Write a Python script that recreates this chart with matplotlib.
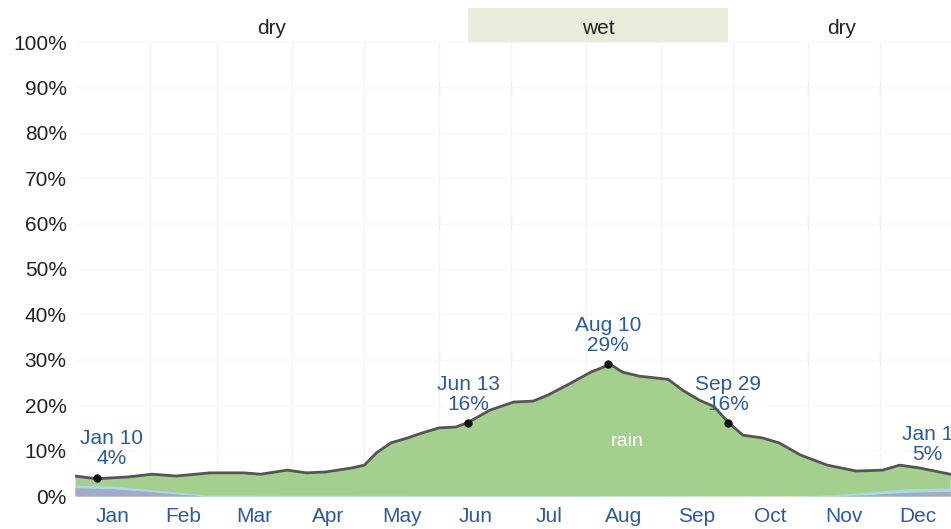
import matplotlib.pyplot as plt
import matplotlib.transforms as mtransforms
from matplotlib.patches import Rectangle
import numpy as np

plt.rcParams['font.family'] = ['Liberation Sans', 'DejaVu Sans']

# 日期(一年中的第几天)与降雨概率(%)
days = [0, 9, 22, 32, 42, 56, 70, 77, 88, 96, 104, 115, 120, 125, 131, 138, 144, 151,
        158, 163, 172, 182, 190, 196, 204, 214, 222, 227, 234, 246, 252, 259, 265, 271,
        277, 285, 292, 301, 312, 324, 335, 342, 350, 363]
rain = [4.4, 3.8, 4.2, 4.8, 4.4, 5.1, 5.1, 4.8, 5.7, 5.1, 5.3, 6.2, 6.8, 9.5, 11.7, 12.8,
        13.9, 15.0, 15.2, 16.2, 18.9, 20.7, 20.9, 22.2, 24.4, 27.3, 29.0, 27.3, 26.4, 25.7,
        23.3, 21.1, 19.7, 16.2, 13.4, 12.8, 11.7, 9.0, 6.8, 5.5, 5.7, 6.8, 6.2, 4.8]

# 底部的雪/雨夹雪层
snow_days = [0, 15, 30, 45, 55, 300, 315, 330, 345, 363]
snow = [1.8, 1.6, 1.0, 0.3, 0.0, 0.0, 0.0, 0.3, 0.8, 1.0]
mixed = [0.6, 0.6, 0.5, 0.4, 0.2, 0.0, 0.3, 0.6, 0.8, 0.8]

months = ['Jan', 'Feb', 'Mar', 'Apr', 'May', 'Jun', 'Jul', 'Aug', 'Sep', 'Oct', 'Nov', 'Dec']
month_len = [31, 28, 31, 30, 31, 30, 31, 31, 30, 31, 30, 31]

# 标注点
ann_days = [9, 163, 221, 271, 365]
ann_vals = [4, 16, 29, 16, 5]
ann_text = ['Jan 10', 'Jun 13', 'Aug 10', 'Sep 29', 'Jan 1']

# 季节分段
season_edges = [0, 163, 271, 365]
season_names = ['dry', 'wet', 'dry']

blue = '#2c5aa0'
fs = 15

fig = plt.figure(figsize=(9.51, 5.29), dpi=100)
ax = fig.add_axes([75 / 951, 33 / 529, 876 / 951, 454 / 529])

ax.fill_between(days, 0, rain, color='#a5cf8f', lw=0, zorder=2)
ax.plot(days, rain, color='#555555', lw=2, zorder=4)

snow_arr = np.array(snow)
mixed_arr = snow_arr + np.array(mixed)
ax.fill_between(snow_days, snow_arr, mixed_arr, color='#a9d9e6', lw=0, zorder=3)
ax.fill_between(snow_days, 0, snow_arr, color='#a3a9c9', lw=0, zorder=3)

ax.set_xlim(0, 363.3)
ax.set_ylim(0, 100)

# 月份网格与标签
starts = np.cumsum([0] + month_len[:-1])
mids = starts + np.array(month_len) / 2
ax.set_xticks(starts[1:], minor=False)
ax.set_xticklabels([])
ax.set_xticks(mids, minor=True)
ax.set_xticklabels(months, minor=True)
ax.tick_params(axis='x', which='both', length=0)
ax.tick_params(axis='x', which='minor', labelsize=fs, labelcolor=blue, pad=8)
ax.grid(axis='x', which='major', color='#f2f2f2', lw=1, zorder=0)

yt = np.arange(0, 101, 10)
ax.set_yticks(yt)
ax.set_yticklabels([f'{v}%' for v in yt])
ax.tick_params(axis='y', length=0, labelsize=fs, labelcolor='#222222', pad=6)
ax.grid(axis='y', color='#f8f8f8', lw=1, zorder=0)

for s in ax.spines.values():
    s.set_visible(False)

# 标注
offsets = [11, 0, 0, 0, -20]
for d, v, t, o in zip(ann_days, ann_vals, ann_text, offsets):
    ax.plot(d, v, 'o', color='#111111', ms=5, zorder=5, clip_on=False)
    ax.annotate(f'{t}\n{v}%', (d, v), xytext=(o, 7), textcoords='offset points',
                ha='center', va='bottom', color=blue, fontsize=fs,
                linespacing=1.05, zorder=6, annotation_clip=False)

ax.text(229, 12, 'rain', color='white', fontsize=14, ha='center', va='center', zorder=5)

# 季节带
trans = mtransforms.blended_transform_factory(ax.transData, ax.transAxes)
for i, name in enumerate(season_names):
    x0, x1 = season_edges[i], season_edges[i + 1]
    if name == 'wet':
        ax.add_patch(Rectangle((x0, 1.0), x1 - x0, 34 / 454, transform=trans,
                               facecolor='#e9ebdb', edgecolor='none', clip_on=False))
    ax.text((x0 + x1) / 2, 1.03, name, transform=trans, ha='center', va='center',
            fontsize=fs, color='#222222')

fig.savefig('out.png', dpi=100)
